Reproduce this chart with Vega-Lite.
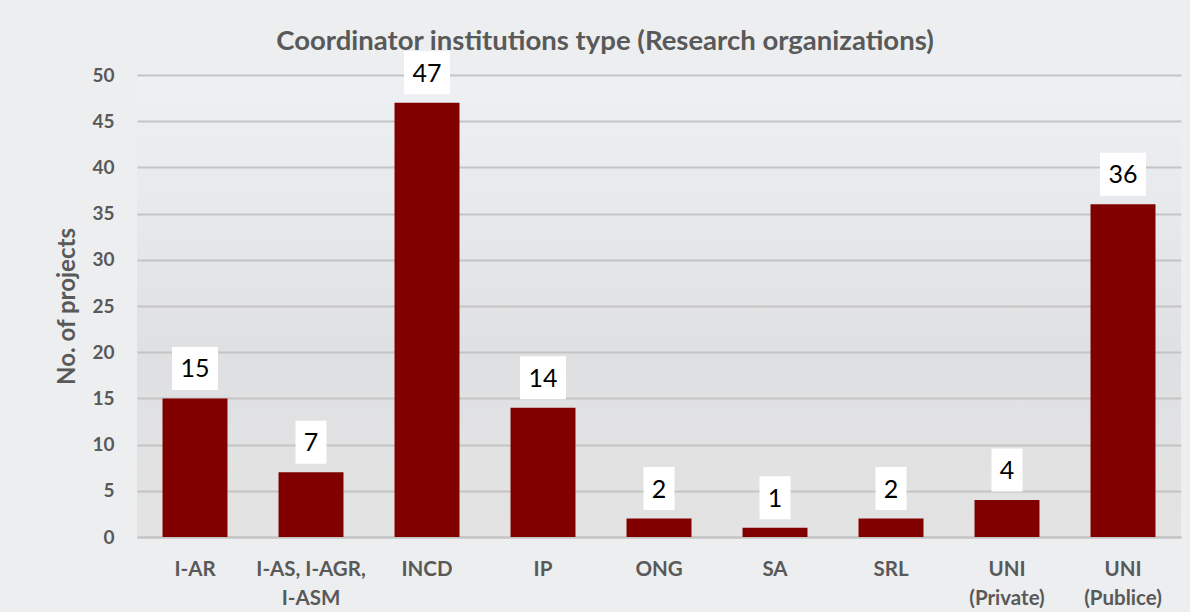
{
  "$schema": "https://vega.github.io/schema/vega-lite/v6.json",
  "width": 1044,
  "height": 462,
  "autosize": {"type": "none"},
  "padding": {"left": 137, "top": 75, "right": 9, "bottom": 75},
  "background": "#eceef0",
  "config": {
    "font": "Lato",
    "view": {
      "stroke": null,
      "fill": {
        "gradient": "linear", "x1": 0, "y1": 0, "x2": 0, "y2": 1,
        "stops": [
          {"offset": 0, "color": "#eef1f4"},
          {"offset": 0.6, "color": "#dfe0e2"},
          {"offset": 1, "color": "#e3e3e3"}
        ]
      }
    }
  },
  "title": {
    "text": "Coordinator institutions type (Research organizations)",
    "fontSize": 27.5,
    "fontWeight": "bold",
    "color": "#595959",
    "anchor": "middle",
    "dx": -54,
    "dy": 20,
    "offset": 16
  },
  "data": {
    "values": [
      {"type": "I-AR", "projects": 15},
      {"type": "I-AS, I-AGR, I-ASM", "projects": 7},
      {"type": "INCD", "projects": 47},
      {"type": "IP", "projects": 14},
      {"type": "ONG", "projects": 2},
      {"type": "SA", "projects": 1},
      {"type": "SRL", "projects": 2},
      {"type": "UNI (Private)", "projects": 4},
      {"type": "UNI (Publice)", "projects": 36}
    ]
  },
  "encoding": {
    "x": {
      "field": "type",
      "type": "nominal",
      "sort": null,
      "scale": {"paddingInner": 0.44, "paddingOuter": 0.22},
      "axis": {
        "title": null,
        "labelAngle": 0,
        "labelFontSize": 20.5,
        "labelFontWeight": "bold",
        "labelColor": "#595959",
        "labelPadding": 22,
        "labelLineHeight": 29,
        "labelBaseline": "top",
        "ticks": false,
        "domainColor": "#c4c4c4",
        "domainWidth": 2,
        "labelExpr": "datum.label == 'I-AS, I-AGR, I-ASM' ? ['I-AS, I-AGR,', 'I-ASM'] : datum.label == 'UNI (Private)' ? ['UNI', '(Private)'] : datum.label == 'UNI (Publice)' ? ['UNI', '(Publice)'] : datum.label"
      }
    },
    "y": {
      "field": "projects",
      "type": "quantitative",
      "scale": {"domain": [0, 50], "nice": false},
      "axis": {
        "title": "No. of projects",
        "titleFontSize": 24,
        "titleFontWeight": "bold",
        "titleColor": "#595959",
        "titlePadding": 12,
        "values": [0, 5, 10, 15, 20, 25, 30, 35, 40, 45, 50],
        "labelFontSize": 19,
        "labelFontWeight": "bold",
        "labelColor": "#595959",
        "labelPadding": 23,
        "ticks": false,
        "domain": false,
        "gridColor": "#c4c4c4",
        "gridWidth": 2
      }
    }
  },
  "layer": [
    {"mark": {"type": "bar", "color": "#800000"}},
    {
      "mark": {"type": "point", "filled": true, "fill": "white", "opacity": 1, "strokeWidth": 0, "size": 4, "yOffset": -30},
      "encoding": {
        "shape": {
          "condition": {"test": "datum.projects >= 10", "value": "M-23,-21.5h46v43h-46Z"},
          "value": "M-15.5,-21.5h31v43h-31Z"
        }
      }
    },
    {
      "mark": {"type": "text", "fontSize": 25, "color": "black", "baseline": "alphabetic", "yOffset": -21},
      "encoding": {"text": {"field": "projects", "type": "quantitative"}}
    }
  ]
}
